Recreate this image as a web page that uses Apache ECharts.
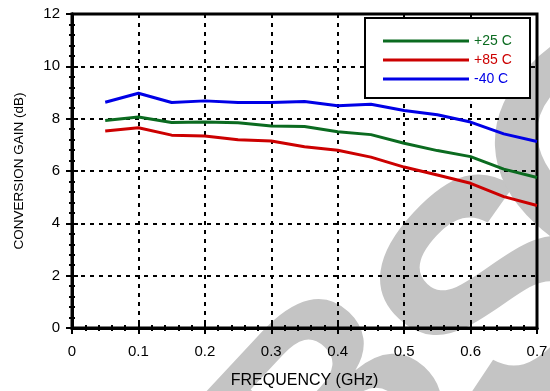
<!DOCTYPE html>
<html><head><meta charset="utf-8">
<script src="https://cdn.jsdelivr.net/npm/echarts@6/dist/echarts.min.js"></script>
<style>html,body{margin:0;padding:0;background:#fff}#c{width:550px;height:391px}</style>
</head><body><div id="c"></div>
<script>
const freq = [0.05,0.1,0.15,0.2,0.25,0.3,0.35,0.4,0.45,0.5,0.55,0.6,0.65,0.7];
const gain25 = [7.93,8.06,7.85,7.87,7.84,7.72,7.70,7.50,7.39,7.06,6.78,6.55,6.07,5.75];
const gain85 = [7.53,7.65,7.37,7.34,7.19,7.15,6.93,6.79,6.53,6.15,5.85,5.53,5.02,4.68];
const gainM40 = [8.63,8.97,8.62,8.68,8.62,8.62,8.66,8.49,8.55,8.31,8.15,7.87,7.42,7.13];
const seriesNames = ['+25 C','+85 C','-40 C'];
const colors = ['#0b6b20','#cc0000','#0000e6'];
const watermark = ['B','S','O'];

const chart = echarts.init(document.getElementById('c'));
const font = 'Liberation Sans, Arial, sans-serif';
const dash = {type:[4,5], color:'#000', width:2};
function mk(data){ return freq.map((f,i)=>[f,data[i]]); }
const xBase = {type:'value', min:0, max:0.7, interval:0.1};
const yBase = {type:'value', min:0, max:12, interval:2};
const tick = {inside:true,length:6,lineStyle:{color:'#000',width:2}};
const minor = {show:true,splitNumber:5,length:3,lineStyle:{color:'#000',width:2}};
const axLine = {lineStyle:{color:'#000',width:3}};

// background watermark letters (decoration)
const wmPos = [[345,418,290],[512,305,320],[628,158,320]];
const wm = watermark.map((ch,i)=>({type:'text', x:wmPos[i][0], y:wmPos[i][1], rotation:0.82, z:-10, silent:true,
    style:{text:ch, font:'bold '+wmPos[i][2]+'px Liberation Sans, Arial', fill:'#c4c4c4',
      align:'center', verticalAlign:'middle'}}));

chart.setOption({
  animation:false,
  grid:{left:72,right:13,top:14,bottom:63,show:true,borderColor:'#000',borderWidth:3,z:1,
    outerBoundsMode:'none', containLabel:false},
  xAxis:[
    Object.assign({}, xBase, {position:'bottom',
      name:'FREQUENCY (GHz)', nameLocation:'middle', nameGap:45,
      nameTextStyle:{fontFamily:font,fontSize:16,color:'#000'},
      axisLine:axLine, axisTick:tick, minorTick:minor,
      axisLabel:{fontFamily:font,fontSize:15,color:'#000',margin:16,formatter:v=>String(+v.toFixed(1))},
      splitLine:{show:true,lineStyle:dash}}),
    Object.assign({}, xBase, {position:'top',
      axisLine:axLine, axisTick:tick, minorTick:minor,
      axisLabel:{show:false},splitLine:{show:false}})
  ],
  yAxis:[
    Object.assign({}, yBase, {position:'left',
      name:'CONVERSION GAIN (dB)', nameLocation:'middle', nameGap:46,
      nameTextStyle:{fontFamily:font,fontSize:13.5,color:'#000'},
      axisLine:axLine, axisTick:tick, minorTick:minor,
      axisLabel:{fontFamily:font,fontSize:15,color:'#000',margin:12},
      splitLine:{show:true,lineStyle:dash}}),
    Object.assign({}, yBase, {position:'right',
      axisLine:axLine, axisTick:tick, minorTick:minor,
      axisLabel:{show:false},splitLine:{show:false}})
  ],
  legend:{
    orient:'vertical', left:383, top:34, padding:0, itemWidth:86, itemHeight:3, itemGap:5,
    icon:'rect', z:10,
    textStyle:{fontFamily:font,fontSize:14,lineHeight:14,width:44,align:'right'},
    data: seriesNames.map((n,i)=>({name:n,textStyle:{color:colors[i]}}))
  },
  graphic:wm.concat([{type:'rect',shape:{x:365,y:18,width:165,height:80},z:8,
    style:{fill:'#fff',stroke:'#000',lineWidth:2}}]),
  series:[gain25,gain85,gainM40].map((d,i)=>({
    name:seriesNames[i], type:'line', data:mk(d), showSymbol:false, symbol:'none',
    lineStyle:{color:colors[i],width:3}, itemStyle:{color:colors[i]}, z:3
  }))
});
</script></body></html>
